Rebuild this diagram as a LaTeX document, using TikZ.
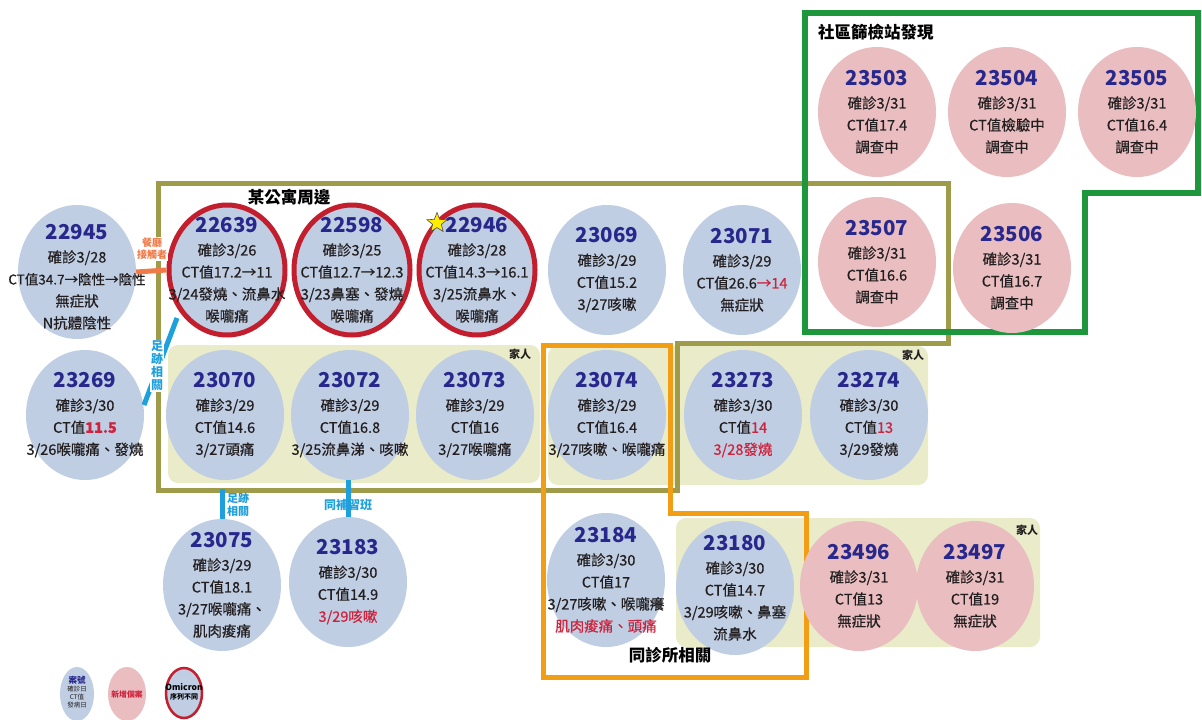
\documentclass[tikz,border=0pt]{standalone}
\usepackage{fontspec}
\setmainfont{Noto Sans CJK TC}
\newfontfamily\bodyfont{Noto Sans CJK TC}[FakeBold=0.5]
\usetikzlibrary{shapes.geometric}
\definecolor{caseblue}{RGB}{192,206,228}
\definecolor{casepink}{RGB}{234,190,192}
\definecolor{famyellow}{RGB}{233,235,201}
\definecolor{numblue}{RGB}{40,40,140}
\definecolor{redtxt}{RGB}{205,35,60}
\definecolor{omired}{RGB}{195,30,45}
\definecolor{olivef}{RGB}{158,156,74}
\definecolor{orangef}{RGB}{242,158,20}
\definecolor{greenf}{RGB}{30,150,60}
\definecolor{linkblue}{RGB}{30,160,220}
\definecolor{linkorange}{RGB}{240,122,72}
\definecolor{txt}{RGB}{35,31,32}
\newcommand\cnum[1]{{\fontsize{20.5}{22}\selectfont\normalfont\bfseries\color{numblue}#1}\\[1pt]}
\newcommand\rd[1]{\textcolor{redtxt}{#1}}
\newcommand\mkcase[6][0pt]{%
  \node[#3] (#2) at (#4,#5) {};
  \node[casetext] (#2-t) at ([yshift=#1]#2.center) {#6};}
\begin{document}
\begin{tikzpicture}[x=1pt,y=-1pt,
  bluec/.style={ellipse, fill=caseblue, minimum width=118, minimum height=130, inner sep=0},
  pinkc/.style={ellipse, fill=casepink, minimum width=118, minimum height=130, inner sep=0},
  omic/.style={ellipse, fill=caseblue, draw=omired, line width=5, minimum width=116, minimum height=130, inner sep=0},
  casetext/.style={align=center, font=\bodyfont\fontsize{14.5}{22}\selectfont, text=txt, inner sep=0},
  famyel/.style={fill=famyellow, rounded corners=10},
  famlabel/.style={font=\fontsize{11}{12}\selectfont\bfseries, text=txt, inner sep=0},
  titlelab/.style={font=\fontsize{16.5}{18}\selectfont\bfseries, text=black, inner sep=0},
  frame/.style={line width=5, line join=miter},
  bluelink/.style={draw=linkblue, line width=5},
  bluelab/.style={font=\fontsize{11}{13}\selectfont\bfseries, text=linkblue, align=center, inner sep=1},
]
\fill[white] (0,0) rectangle (1202,720);
\useasboundingbox (0,0) rectangle (1202,720);

% family boxes
\fill[famyel] (168,345) rectangle (540,483);
\fill[famyel] (548,346) rectangle (928,485);
\fill[famyel] (676,518) rectangle (1040,647);

% frames
\draw[frame, olivef] (158,183) -- (948,183) -- (948,343) -- (677,343) -- (677,490) -- (158,490) -- cycle;
\draw[frame, orangef] (543,345) -- (670,345) -- (670,513) -- (806,513) -- (806,677) -- (543,677) -- cycle;
\draw[frame, greenf, line width=5.5] (805,13) -- (1198,13) -- (1198,193) -- (1085,193) -- (1085,332) -- (805,332) -- cycle;

% cases row 1
\mkcase[-5pt]{n22945}{bluec,minimum height=134}{77}{272}{\cnum{22945}確診3/28\\{\fontsize{13.5}{22}\selectfont CT值34.7→陰性→陰性}\\無症狀\\N抗體陰性}
\mkcase{n22639}{omic}{227}{270}{\cnum{22639}確診3/26\\CT值17.2→11\\3/24發燒、流鼻水\\喉嚨痛}
\mkcase{n22598}{omic}{352}{270}{\cnum{22598}確診3/25\\CT值12.7→12.3\\3/23鼻塞、發燒\\喉嚨痛}
\mkcase{n22946}{omic}{477}{270}{\cnum{22946}確診3/28\\CT值14.3→16.1\\3/25流鼻水、\\喉嚨痛}
\mkcase{n23069}{bluec}{607}{270}{\cnum{23069}確診3/29\\CT值15.2\\3/27咳嗽}
\mkcase{n23071}{bluec}{742}{270}{\cnum{23071}確診3/29\\CT值26.6\rd{→14}\\無症狀}
\mkcase{n23503}{pinkc}{877}{112}{\cnum{23503}確診3/31\\CT值17.4\\調查中}
\mkcase{n23504}{pinkc}{1007}{112}{\cnum{23504}確診3/31\\CT值檢驗中\\調查中}
\mkcase{n23505}{pinkc}{1137}{112}{\cnum{23505}確診3/31\\CT值16.4\\調查中}
\mkcase{n23507}{pinkc}{877}{262}{\cnum{23507}確診3/31\\CT值16.6\\調查中}
\mkcase{n23506}{pinkc}{1012}{268}{\cnum{23506}確診3/31\\CT值16.7\\調查中}

% row 2
\mkcase{n23269}{bluec}{85}{415}{\cnum{23269}確診3/30\\CT值\rd{\bfseries 11.5}\\3/26喉嚨痛、發燒}
\mkcase{n23070}{bluec}{225}{415}{\cnum{23070}確診3/29\\CT值14.6\\3/27頭痛}
\mkcase{n23072}{bluec}{350}{415}{\cnum{23072}確診3/29\\CT值16.8\\3/25流鼻涕、咳嗽}
\mkcase{n23073}{bluec}{475}{415}{\cnum{23073}確診3/29\\CT值16\\3/27喉嚨痛}
\mkcase{n23074}{bluec}{607}{415}{\cnum{23074}確診3/29\\CT值16.4\\3/27咳嗽、喉嚨痛}
\mkcase{n23273}{bluec}{743}{415}{\cnum{23273}確診3/30\\CT值\rd{14}\\\rd{3/28發燒}}
\mkcase{n23274}{bluec}{869}{415}{\cnum{23274}確診3/30\\CT值\rd{13}\\3/29發燒}

% row 3
\mkcase{n23075}{bluec,minimum height=132}{222}{585}{\cnum{23075}確診3/29\\CT值18.1\\3/27喉嚨痛、\\肌肉痠痛}
\mkcase{n23183}{bluec}{348}{582}{\cnum{23183}確診3/30\\CT值14.9\\\rd{3/29咳嗽}}
\mkcase{n23184}{bluec,minimum height=134}{606}{580}{\cnum{23184}確診3/30\\CT值17\\3/27咳嗽、喉嚨癢\\\rd{肌肉痠痛、頭痛}}
\mkcase{n23180}{bluec,minimum height=134}{735}{588}{\cnum{23180}確診3/30\\CT值14.7\\3/29咳嗽、鼻塞\\流鼻水}
\mkcase{n23496}{pinkc}{859}{586}{\cnum{23496}確診3/31\\CT值13\\無症狀}
\mkcase{n23497}{pinkc}{975}{586}{\cnum{23497}確診3/31\\CT值19\\無症狀}

% links
\draw[draw=linkorange, line width=5] (n22945.east) -- (n22639.west);
\draw[bluelink] ([shift={(-50,48)}]n22639.center) -- ([shift={(59,-10)}]n23269.center);
\draw[bluelink] (n23075.north) -- ++(0,-30);
\draw[bluelink] (n23183.north) -- (n23183.north |- n23072.south);
\node[font=\fontsize{10}{12}\selectfont\bfseries, text=linkorange, align=center, fill=white, inner sep=1] (lab-rest) at (152,249) {餐廳\\接觸者};
\node[font=\fontsize{12}{13}\selectfont\bfseries, text=linkblue, align=center, fill=white, inner sep=1] (lab-foot1) at (157,366) {足\\跡\\相\\關};
\node[bluelab, anchor=west] (lab-foot2) at (226,505) {足跡\\相關};
\node[font=\fontsize{12}{13}\selectfont\bfseries, text=linkblue, inner sep=0] (lab-class) at (348,505) {同補習班};

% star
\node[star, star points=5, star point ratio=2.3, fill=yellow!95!orange, draw=black!70, line width=0.6, minimum size=21, inner sep=0] (star) at (437,223) {};

% titles
\node[titlelab] (t-apt) at (289,197) {某公寓周邊};
\node[titlelab, anchor=west] (t-comm) at (818,32) {社區篩檢站發現};
\node[titlelab] (t-clinic) at (670,655) {同診所相關};
\node[famlabel] (fam1) at (520,354) {家人};
\node[famlabel] (fam2) at (913,355) {家人};
\node[famlabel] (fam3) at (1027,530) {家人};

% legend
\node[ellipse, fill=caseblue, minimum width=34, minimum height=54, inner sep=0] (lg1) at (77,694) {};
\node[align=center, inner sep=0, font=\fontsize{6.5}{8}\selectfont, text=txt] (lg1-t) at (77,692) {{\fontsize{8.5}{9}\selectfont\bfseries\color{numblue}案號}\\確診日\\CT值\\發病日};
\node[ellipse, fill=casepink, minimum width=38, minimum height=54, inner sep=0] (lg2) at (127,694) {};
\node[font=\fontsize{7.8}{9}\selectfont\bfseries, text=redtxt, inner sep=0] (lg2-t) at (127,695) {新增個案};
\node[ellipse, fill=caseblue, draw=omired, line width=2.5, minimum width=36, minimum height=50, inner sep=0] (lg3) at (184,693) {};
\node[align=center, inner sep=0, font=\fontsize{8.5}{9.5}\selectfont\bfseries, text=black] (lg3-t) at (184,692) {Omicron\\{\fontsize{7}{9}\selectfont 序列不同}};
\end{tikzpicture}
\end{document}
